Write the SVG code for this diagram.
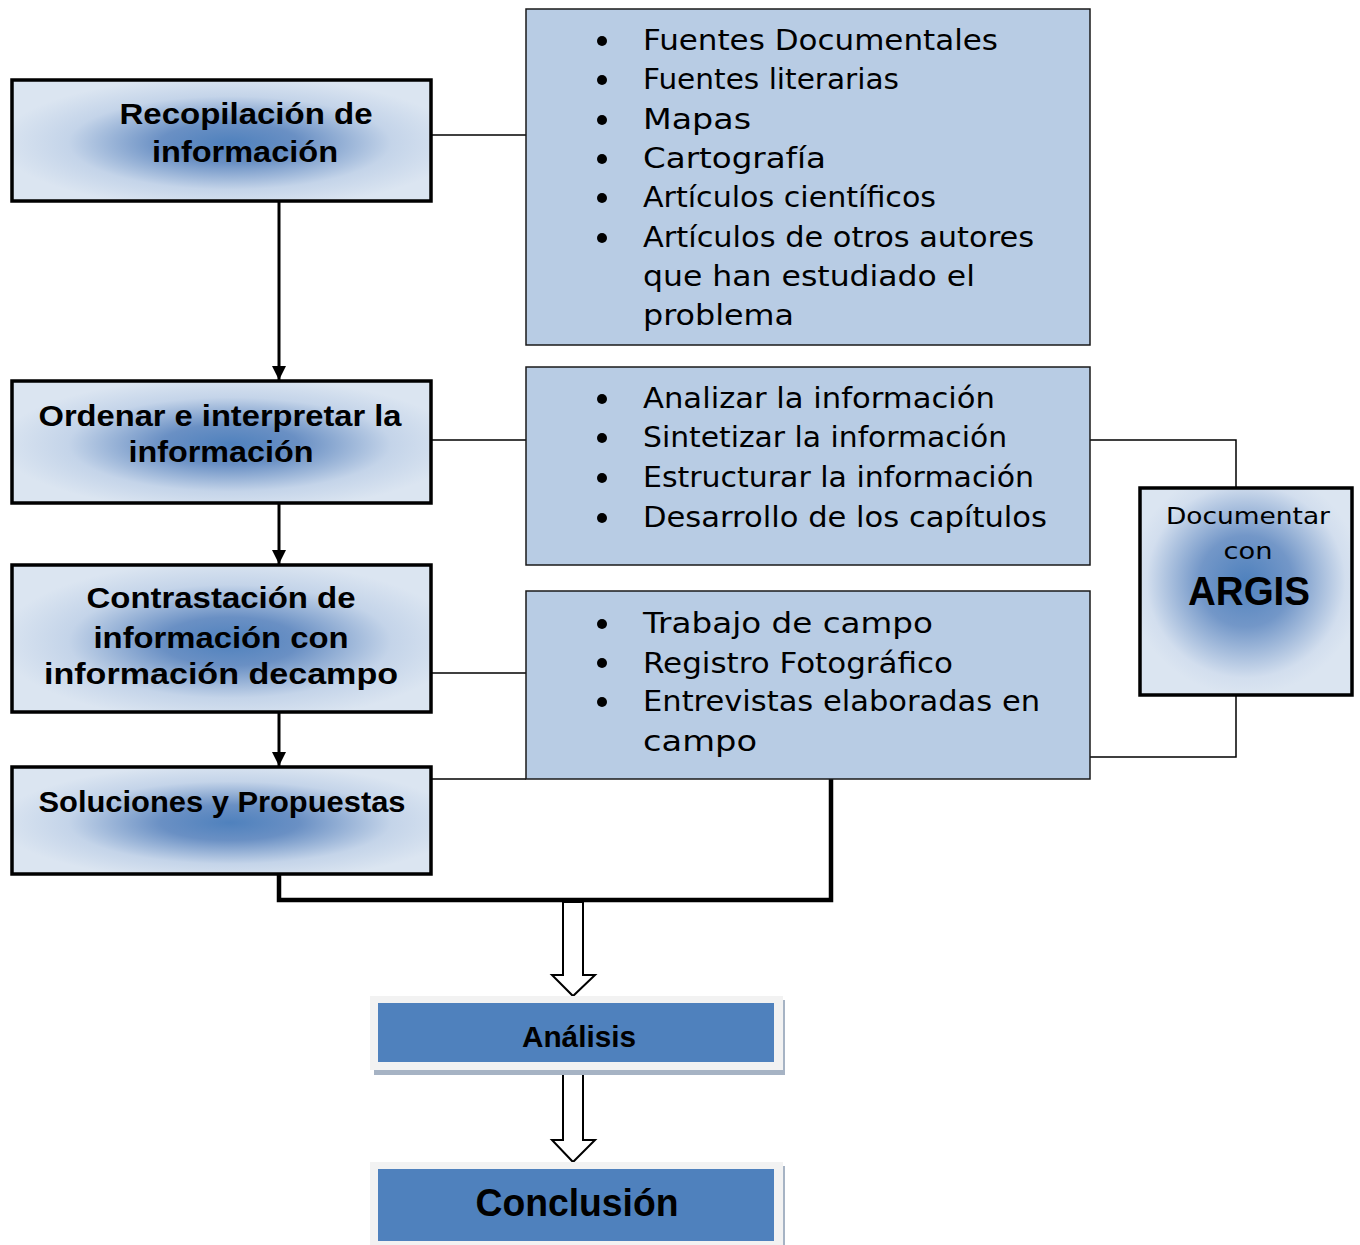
<svg xmlns="http://www.w3.org/2000/svg" width="1360" height="1245" viewBox="0 0 1360 1245">
<defs>
<radialGradient id="gBox" cx="0.52" cy="0.52" r="0.55">
<stop offset="0" stop-color="#4F81BD"/>
<stop offset="0.3" stop-color="#6A90C4"/>
<stop offset="0.7" stop-color="#C4D4E9"/>
<stop offset="1" stop-color="#DBE5F1"/>
</radialGradient>
<radialGradient id="gArg" cx="0.5" cy="0.45" r="0.55">
<stop offset="0" stop-color="#4F81BD"/>
<stop offset="0.4" stop-color="#7397C8"/>
<stop offset="0.85" stop-color="#D2DEEE"/>
<stop offset="1" stop-color="#DBE5F1"/>
</radialGradient>
<marker id="ah" markerWidth="14" markerHeight="14" refX="10" refY="5" orient="auto" markerUnits="userSpaceOnUse" viewBox="0 0 10 10">
<path d="M0,0 L10,5 L0,10 z" fill="#000"/>
</marker>
</defs>
<style>
.lbox{fill:url(#gBox);stroke:#000;stroke-width:3.5}
.rbox{fill:#B8CCE4;stroke:#1a1a1a;stroke-width:1.5}
.b{font-family:"Liberation Sans",Arial,sans-serif;font-weight:bold;font-size:29px;fill:#000;text-anchor:middle}
.t{font-family:"DejaVu Sans","Liberation Sans",sans-serif;font-size:28px;fill:#000}
.thin{fill:none;stroke:#000;stroke-width:1.5}
.arr{fill:none;stroke:#000;stroke-width:3}
.hollow{fill:#fff;stroke:#000;stroke-width:2}
.blue{fill:#4F81BD}
.outer{fill:#F2F2F2}
.shadow{fill:#A6B3C4}
</style>
<rect width="1360" height="1245" fill="#fff"/>

<g id="connectors">
<line class="thin" x1="431" y1="135" x2="526" y2="135"/>
<line class="thin" x1="431" y1="440" x2="526" y2="440"/>
<line class="thin" x1="431" y1="673" x2="526" y2="673"/>
<line class="thin" x1="431" y1="779" x2="526" y2="779"/>
<line class="arr" x1="279" y1="201" x2="279" y2="380" marker-end="url(#ah)"/>
<line class="arr" x1="279" y1="503" x2="279" y2="564" marker-end="url(#ah)"/>
<line class="arr" x1="279" y1="712" x2="279" y2="766" marker-end="url(#ah)"/>
<polyline fill="none" stroke="#000" stroke-width="4.5" points="279,874 279,900 831,900 831,779"/>
<polyline class="thin" points="1090,440 1236,440 1236,488"/>
<polyline class="thin" points="1236,695 1236,757 1090,757"/>
<polygon class="hollow" points="563,902 583,902 583,975 595,975 573,996 552,975 563,975"/>
<polygon class="hollow" points="563,1066 583,1066 583,1140 595,1140 573,1162 552,1140 563,1140"/>
</g>

<g id="n1">
<rect class="lbox" x="12" y="80" width="419" height="121"/>
<text class="b" x="246" y="124" textLength="253" lengthAdjust="spacingAndGlyphs">Recopilación de</text>
<text class="b" x="245" y="162" textLength="186" lengthAdjust="spacingAndGlyphs">información</text>
</g>
<g id="n2">
<rect class="lbox" x="12" y="381" width="419" height="122"/>
<text class="b" x="220" y="426" textLength="363" lengthAdjust="spacingAndGlyphs">Ordenar e interpretar la</text>
<text class="b" x="221" y="462" textLength="185" lengthAdjust="spacingAndGlyphs">información</text>
</g>
<g id="n3">
<rect class="lbox" x="12" y="565" width="419" height="147"/>
<text class="b" x="221" y="608" textLength="269" lengthAdjust="spacingAndGlyphs">Contrastación  de</text>
<text class="b" x="221" y="648" textLength="255" lengthAdjust="spacingAndGlyphs">información con</text>
<text class="b" x="221" y="684" textLength="354" lengthAdjust="spacingAndGlyphs">información decampo</text>
</g>
<g id="n4">
<rect class="lbox" x="12" y="767" width="419" height="107"/>
<text class="b" x="222" y="812" textLength="367" lengthAdjust="spacingAndGlyphs">Soluciones y Propuestas</text>
</g>

<g id="r1">
<rect class="rbox" x="526" y="9" width="564" height="336"/>
<circle cx="602" cy="41" r="5"/><circle cx="602" cy="80" r="5"/><circle cx="602" cy="120" r="5"/><circle cx="602" cy="159" r="5"/><circle cx="602" cy="198" r="5"/><circle cx="602" cy="238" r="5"/>
<text class="t" x="643" y="50" textLength="355" lengthAdjust="spacingAndGlyphs">Fuentes Documentales</text>
<text class="t" x="643" y="89" textLength="256" lengthAdjust="spacingAndGlyphs">Fuentes literarias</text>
<text class="t" x="643" y="129" textLength="108" lengthAdjust="spacingAndGlyphs">Mapas</text>
<text class="t" x="643" y="168" textLength="183" lengthAdjust="spacingAndGlyphs">Cartografía</text>
<text class="t" x="643" y="207" textLength="293" lengthAdjust="spacingAndGlyphs">Artículos científicos</text>
<text class="t" x="643" y="247" textLength="391" lengthAdjust="spacingAndGlyphs">Artículos de otros autores</text>
<text class="t" x="643" y="286" textLength="332" lengthAdjust="spacingAndGlyphs">que han estudiado el</text>
<text class="t" x="643" y="325" textLength="151" lengthAdjust="spacingAndGlyphs">problema</text>
</g>
<g id="r2">
<rect class="rbox" x="526" y="367" width="564" height="198"/>
<circle cx="602" cy="399" r="5"/><circle cx="602" cy="438" r="5"/><circle cx="602" cy="478" r="5"/><circle cx="602" cy="518" r="5"/>
<text class="t" x="643" y="408" textLength="352" lengthAdjust="spacingAndGlyphs">Analizar la información</text>
<text class="t" x="643" y="447" textLength="364" lengthAdjust="spacingAndGlyphs">Sintetizar la información</text>
<text class="t" x="643" y="487" textLength="391" lengthAdjust="spacingAndGlyphs">Estructurar la información</text>
<text class="t" x="643" y="527" textLength="404" lengthAdjust="spacingAndGlyphs">Desarrollo  de los capítulos</text>
</g>
<g id="r3">
<rect class="rbox" x="526" y="591" width="564" height="188"/>
<circle cx="602" cy="624" r="5"/><circle cx="602" cy="663" r="5"/><circle cx="602" cy="702" r="5"/>
<text class="t" x="643" y="633" textLength="290" lengthAdjust="spacingAndGlyphs">Trabajo de campo</text>
<text class="t" x="643" y="673" textLength="310" lengthAdjust="spacingAndGlyphs">Registro Fotográfico</text>
<text class="t" x="643" y="711" textLength="397" lengthAdjust="spacingAndGlyphs">Entrevistas elaboradas en</text>
<text class="t" x="643" y="751" textLength="114" lengthAdjust="spacingAndGlyphs">campo</text>
</g>

<g id="argis">
<rect x="1140" y="488" width="212" height="207" fill="url(#gArg)" stroke="#000" stroke-width="3.5"/>
<text class="t" x="1248" y="524" text-anchor="middle" style="font-size:23px" textLength="164" lengthAdjust="spacingAndGlyphs">Documentar</text>
<text class="t" x="1248" y="559" text-anchor="middle" style="font-size:23px" textLength="49" lengthAdjust="spacingAndGlyphs">con</text>
<text class="b" x="1249" y="605" style="font-size:40px" textLength="122" lengthAdjust="spacingAndGlyphs">ARGIS</text>
</g>

<g id="analisis">
<rect class="shadow" x="374" y="1000" width="411" height="75"/>
<rect class="outer" x="370" y="996" width="413" height="74"/>
<rect class="blue" x="378" y="1003" width="396" height="59"/>
<text class="b" x="579" y="1047" style="font-size:29px" textLength="114" lengthAdjust="spacingAndGlyphs">Análisis</text>
</g>
<g id="conclusion">
<rect class="shadow" x="374" y="1166" width="411" height="79"/>
<rect class="outer" x="370" y="1162" width="413" height="83"/>
<rect class="blue" x="378" y="1169" width="396" height="72"/>
<text class="b" x="577" y="1216" style="font-size:38px" textLength="203" lengthAdjust="spacingAndGlyphs">Conclusión</text>
</g>
</svg>
